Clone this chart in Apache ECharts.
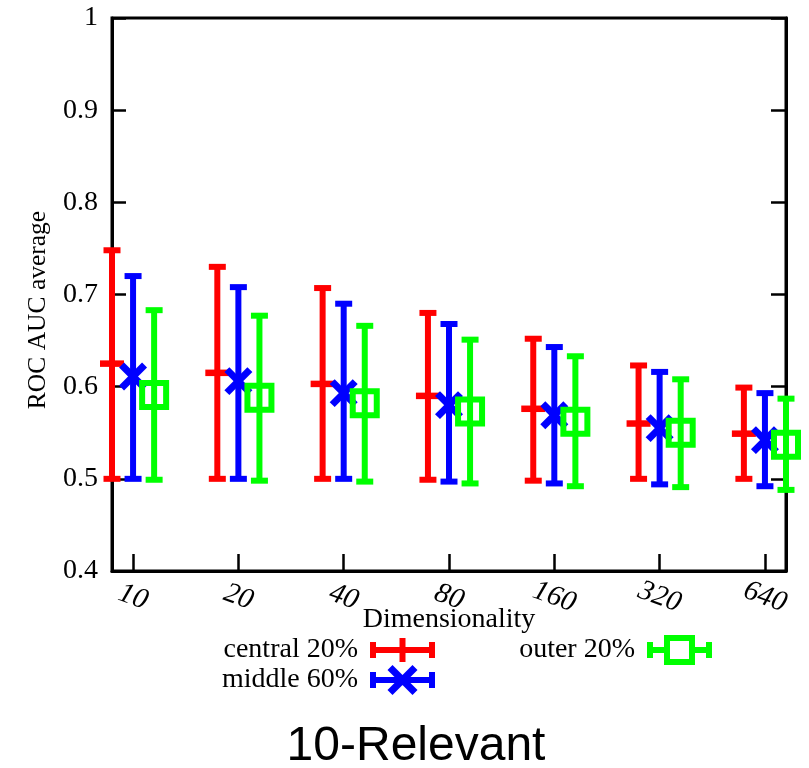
<!DOCTYPE html>
<html>
<head>
<meta charset="utf-8">
<script src="https://cdn.jsdelivr.net/npm/echarts@6/dist/echarts.min.js"></script>
<style>html,body{margin:0;padding:0;background:#fff;}#chart{width:809px;height:768px;}</style>
</head>
<body>
<div id="chart"></div>
<script>
// ---- data ----
const dims = ['10', '20', '40', '80', '160', '320', '640'];
const yTicks = [0.4, 0.5, 0.6, 0.7, 0.8, 0.9, 1.0];

const centralLow  = [0.500, 0.500, 0.500, 0.499, 0.498, 0.500, 0.500];
const centralMid  = [0.625, 0.615, 0.603, 0.590, 0.576, 0.560, 0.549];
const centralHigh = [0.748, 0.730, 0.707, 0.680, 0.652, 0.623, 0.599];

const middleLow   = [0.500, 0.500, 0.500, 0.497, 0.495, 0.494, 0.492];
const middleMid   = [0.611, 0.606, 0.593, 0.580, 0.569, 0.555, 0.542];
const middleHigh  = [0.720, 0.708, 0.690, 0.668, 0.643, 0.616, 0.593];

const outerLow    = [0.499, 0.498, 0.497, 0.495, 0.492, 0.491, 0.488];
const outerMid    = [0.591, 0.588, 0.582, 0.573, 0.562, 0.550, 0.537];
const outerHigh   = [0.683, 0.677, 0.666, 0.651, 0.633, 0.608, 0.587];

const seriesNames = ['central 20%', 'middle 60%', 'outer 20%'];
// ---- end data ----

const COLORS = ['#ff0000', '#0000ff', '#00ff00'];
const SERIF = "'Liberation Serif', 'Times New Roman', serif";

function build(low, mid, high) {
  return dims.map((d, i) => [i + 1, low[i], mid[i], high[i]]);
}

function makeRender(offset, kind, color) {
  return function (params, api) {
    const x = api.value(0) + offset;
    const pL = api.coord([x, api.value(1)]);
    const pM = api.coord([x, api.value(2)]);
    const pH = api.coord([x, api.value(3)]);
    const lw = 6;
    const cap = 8.5;
    const st = { stroke: color, lineWidth: lw, fill: null, lineCap: 'butt' };
    const children = [
      { type: 'line', shape: { x1: pL[0], y1: pL[1], x2: pH[0], y2: pH[1] }, style: st },
      { type: 'line', shape: { x1: pL[0] - cap, y1: pL[1], x2: pL[0] + cap, y2: pL[1] }, style: st },
      { type: 'line', shape: { x1: pH[0] - cap, y1: pH[1], x2: pH[0] + cap, y2: pH[1] }, style: st }
    ];
    if (kind === 'plus') {
      children.push({ type: 'line', shape: { x1: pM[0] - 12, y1: pM[1], x2: pM[0] + 12, y2: pM[1] },
        style: { stroke: color, lineWidth: 6.5, lineCap: 'butt' } });
    } else if (kind === 'cross') {
      const s = 11.5;
      children.push({ type: 'line', shape: { x1: pM[0] - s, y1: pM[1] - s, x2: pM[0] + s, y2: pM[1] + s },
        style: { stroke: color, lineWidth: 7, lineCap: 'butt' } });
      children.push({ type: 'line', shape: { x1: pM[0] - s, y1: pM[1] + s, x2: pM[0] + s, y2: pM[1] - s },
        style: { stroke: color, lineWidth: 7, lineCap: 'butt' } });
    } else if (kind === 'square') {
      children.push({ type: 'rect', shape: { x: pM[0] - 12, y: pM[1] - 12, width: 24, height: 24 },
        style: { stroke: color, lineWidth: 6, fill: null } });
    }
    return { type: 'group', children: children };
  };
}

// legend icons (65 x 30 box)
const ICON_RED = 'path://M0,0 L0.01,0.01 Z M65,30 L64.99,29.99 Z ' +
  'M0,7 L6,7 L6,23 L0,23 Z M59,7 L65,7 L65,23 L59,23 Z M0,12 L65,12 L65,18 L0,18 Z M29.5,3 L35.5,3 L35.5,27 L29.5,27 Z';
const ICON_BLUE = 'path://M0,0 L0.01,0.01 Z M65,30 L64.99,29.99 Z ' +
  'M0,7 L6,7 L6,23 L0,23 Z M59,7 L65,7 L65,23 L59,23 Z M0,12 L65,12 L65,18 L0,18 Z ' +
  'M22.5,0 L47.5,25 L42.5,30 L17.5,5 Z M42.5,0 L47.5,5 L22.5,30 L17.5,25 Z';
const ICON_GREEN = 'path://M0,0 L0.01,0.01 Z M65,30 L64.99,29.99 Z ' +
  'M0,7 L6,7 L6,23 L0,23 Z M59,7 L65,7 L65,23 L59,23 Z M0,12 L17,12 L17,18 L0,18 Z M48,12 L65,12 L65,18 L48,18 Z ' +
  'M17,0 L48,0 L48,30 L17,30 Z M23,6 L23,24 L42,24 L42,6 Z';

const chart = echarts.init(document.getElementById('chart'), null, { renderer: 'canvas' });

const legendText = { fontFamily: SERIF, fontSize: 28, color: '#000', padding: [0, 7, 0, 0] };

const option = {
  animation: false,
  backgroundColor: '#fff',
  grid: { left: 112, right: 23, top: 18, bottom: 197, show: true, borderColor: '#000', borderWidth: 3, backgroundColor: 'transparent' },
  xAxis: {
    type: 'value', min: 0.8, max: 7.2,
    splitLine: { show: false },
    axisLine: { show: true, onZero: false, lineStyle: { color: '#000', width: 3 } },
    axisTick: { show: true, inside: true, length: 17, customValues: dims.map((d, i) => i + 1), lineStyle: { color: '#000', width: 2.5 } },
    axisLabel: {
      customValues: dims.map((d, i) => i + 1),
      formatter: v => dims[Math.round(v) - 1] || '',
      rotate: -20, align: 'center', verticalAlign: 'middle', margin: 26,
      fontFamily: SERIF, fontStyle: 'italic', fontSize: 29, color: '#000'
    },
    name: 'Dimensionality', nameLocation: 'middle', nameGap: 49, nameMoveOverlap: false,
    nameTextStyle: { fontFamily: SERIF, fontSize: 28, color: '#000', verticalAlign: 'middle' }
  },
  yAxis: [{
    type: 'value', min: 0.4, max: 1.0, interval: 0.1,
    splitLine: { show: false },
    axisLine: { show: true, lineStyle: { color: '#000', width: 3 } },
    axisTick: { show: true, inside: true, length: 14, lineStyle: { color: '#000', width: 2.5 } },
    axisLabel: {
      margin: 14, fontFamily: SERIF, fontSize: 28, color: '#000',
      formatter: v => (Math.abs(v - 1) < 1e-9 ? '1' : v.toFixed(1))
    }
  }, {
    type: 'value', min: 0.4, max: 1.0, interval: 0.1, position: 'right',
    splitLine: { show: false },
    axisLine: { show: true, lineStyle: { color: '#000', width: 3 } },
    axisTick: { show: true, inside: true, length: 15, lineStyle: { color: '#000', width: 2.5 } },
    axisLabel: { show: false }
  }],
  legend: [{
    orient: 'vertical', right: 374, top: 635, padding: 0, itemGap: 0,
    itemWidth: 65, itemHeight: 30, align: 'right', selectedMode: false, symbolKeepAspect: false,
    textStyle: legendText,
    data: [
      { name: seriesNames[0], icon: ICON_RED, itemStyle: { color: COLORS[0] } },
      { name: seriesNames[1], icon: ICON_BLUE, itemStyle: { color: COLORS[1] } }
    ]
  }, {
    orient: 'vertical', right: 97, top: 635, padding: 0, itemGap: 0,
    itemWidth: 65, itemHeight: 30, align: 'right', selectedMode: false, symbolKeepAspect: false,
    textStyle: legendText,
    data: [
      { name: seriesNames[2], icon: ICON_GREEN, itemStyle: { color: COLORS[2] } }
    ]
  }],
  graphic: [{
    type: 'text', x: 38, y: 310, rotation: Math.PI / 2,
    style: { text: 'ROC AUC average', font: "25.5px 'Liberation Serif'", fill: '#000', align: 'center', verticalAlign: 'middle' }
  }, {
    type: 'text', x: 416, y: 747,
    style: { text: '10-Relevant', font: "48px 'Liberation Sans'", fill: '#000', align: 'center', verticalAlign: 'middle' }
  }],
  series: [{
    name: seriesNames[0], type: 'custom', clip: false, itemStyle: { color: COLORS[0] },
    renderItem: makeRender(-0.2, 'plus', COLORS[0]),
    encode: { x: 0, y: [1, 2, 3] },
    data: build(centralLow, centralMid, centralHigh)
  }, {
    name: seriesNames[1], type: 'custom', clip: false, itemStyle: { color: COLORS[1] },
    renderItem: makeRender(0, 'cross', COLORS[1]),
    encode: { x: 0, y: [1, 2, 3] },
    data: build(middleLow, middleMid, middleHigh)
  }, {
    name: seriesNames[2], type: 'custom', clip: false, itemStyle: { color: COLORS[2] },
    renderItem: makeRender(0.2, 'square', COLORS[2]),
    encode: { x: 0, y: [1, 2, 3] },
    data: build(outerLow, outerMid, outerHigh)
  }]
};
chart.setOption(option);
</script>
</body>
</html>
